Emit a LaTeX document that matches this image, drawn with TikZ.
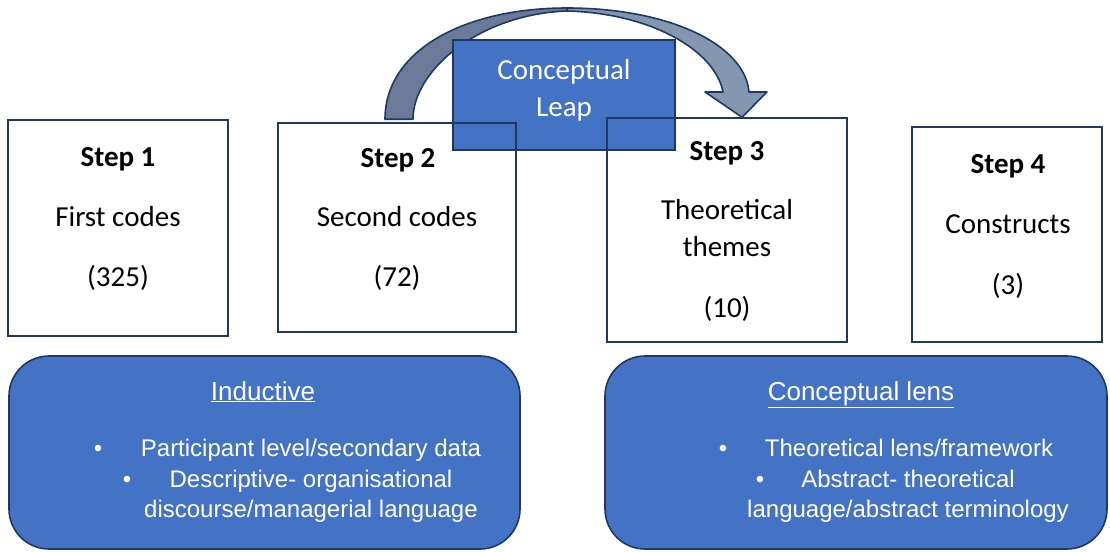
\documentclass[tikz,border=0pt]{standalone}
\usepackage{fontspec}
\setmainfont{Carlito}
\newfontfamily\arialfont{Liberation Sans}
\usetikzlibrary{positioning}

\definecolor{leapblue}{HTML}{4472C4}
\definecolor{navyline}{HTML}{1F3864}
\definecolor{arcdark}{HTML}{6B7A99}
\definecolor{arclight}{HTML}{8497B0}

\pgfdeclarelayer{arc}
\pgfdeclarelayer{leap}
\pgfsetlayers{arc,leap,main}

\begin{document}
\begin{tikzpicture}[
        x=1pt, y=-1pt,
        stepbox/.style={
            rectangle,
            draw=navyline,
            line width=1.6pt,
            inner sep=0pt
        },
        leapbox/.style={
            rectangle,
            draw=navyline,
            line width=1.6pt,
            fill=leapblue,
            inner sep=0pt
        },
        lensbox/.style={
            rectangle,
            draw=navyline,
            line width=1.6pt,
            fill=leapblue,
            rounded corners=40pt,
            inner sep=0pt
        },
        steptext/.style={anchor=base, inner sep=0pt, font=\fontsize{29}{35}\selectfont},
        steptitle/.style={anchor=base, inner sep=0pt, font=\fontsize{29}{35}\selectfont\bfseries},
        leaptext/.style={steptext, text=white},
        lenstitle/.style={anchor=base, inner sep=0pt, text=white, font=\arialfont\fontsize{26}{31}\selectfont},
        lensitem/.style={anchor=base, inner sep=0pt, text=white, font=\arialfont\fontsize{24}{29}\selectfont},
        arcback/.style={fill=arcdark, draw=navyline, line width=1.6pt, line join=round},
        arcfront/.style={fill=arclight, draw=navyline, line width=1.6pt, line join=round}
    ]
    \useasboundingbox (0,0) rectangle (1110,552);

    % Step boxes
    \node[stepbox, minimum width=220pt, minimum height=216pt] (s1) at (118,228) {};
    \node[stepbox, minimum width=238pt, minimum height=209pt] (s2) at (397,227.5) {};
    \node[stepbox, minimum width=240pt, minimum height=224pt] (s3) at (727,230) {};
    \node[stepbox, minimum width=190pt, minimum height=215pt] (s4) at (1007,234.5) {};

    \node[steptitle] (s1title) at (118,166) {Step 1};
    \node[steptext] (s1name) at (118,226) {First codes};
    \node[steptext] (s1count) at (118,286) {(325)};

    \node[steptitle] (s2title) at (398,167) {Step 2};
    \node[steptext] (s2name) at (397,226) {Second codes};
    \node[steptext] (s2count) at (397,286) {(72)};

    \node[steptitle] (s3title) at (727,160) {Step 3};
    \node[steptext] (s3name) at (727,219) {Theoretical};
    \node[steptext] (s3name2) at (727,256) {themes};
    \node[steptext] (s3count) at (727,317) {(10)};

    \node[steptitle] (s4title) at (1008,173) {Step 4};
    \node[steptext] (s4name) at (1008,233) {Constructs};
    \node[steptext] (s4count) at (1008,294) {(3)};

    % Conceptual leap
    \begin{pgfonlayer}{leap}
    \node[leapbox, minimum width=222pt, minimum height=110pt] (leap) at (564,95) {};
    \node[leaptext] (leaptop) at (564,79) {Conceptual};
    \node[leaptext] (leapbottom) at (564,116) {Leap};
    \end{pgfonlayer}

    \begin{pgfonlayer}{arc}
    \path[arcfront] (567,8) .. controls (670,8) and (745,45) .. (749,92) -- (767,92)
        -- ([xshift=15pt]s3.north) -- (705,92) -- (723,92)
        .. controls (715,50) and (650,13) .. (567,11) -- cycle;
    \path[arcback] ([xshift=-12pt,yshift=3pt]s2.north) .. controls (385,50) and (465,8) .. (567,8)
        -- (567,11) .. controls (480,14) and (413,70) .. ([xshift=16pt,yshift=3pt]s2.north) -- cycle;
    \end{pgfonlayer}

    % Lens boxes
    \node[lensbox, minimum width=511pt, minimum height=193pt] (inductive) at (264.5,452.5) {};
    \node[lensbox, minimum width=502pt, minimum height=193pt] (lens) at (856,452.5) {};

    \node[lenstitle] (indtitle) at (263,400) {\underline{Inductive}};
    \node[lensitem] (inddot1) at (98,456) {•};
    \node[lensitem] (inditem1) at (311,456) {Participant level/secondary data};
    \node[lensitem] (inddot2) at (127,487) {•};
    \node[lensitem] (inditem2) at (311,487) {Descriptive- organisational};
    \node[lensitem] (inditem3) at (311,517) {discourse/managerial language};

    \node[lenstitle] (lenstitle) at (861,400) {\underline{Conceptual lens}};
    \node[lensitem] (lensdot1) at (723,456) {•};
    \node[lensitem] (lensitem1) at (909,456) {Theoretical lens/framework};
    \node[lensitem] (lensdot2) at (760,487) {•};
    \node[lensitem] (lensitem2) at (908,487) {Abstract- theoretical};
    \node[lensitem] (lensitem3) at (908,517) {language/abstract terminology};
\end{tikzpicture}
\end{document}
